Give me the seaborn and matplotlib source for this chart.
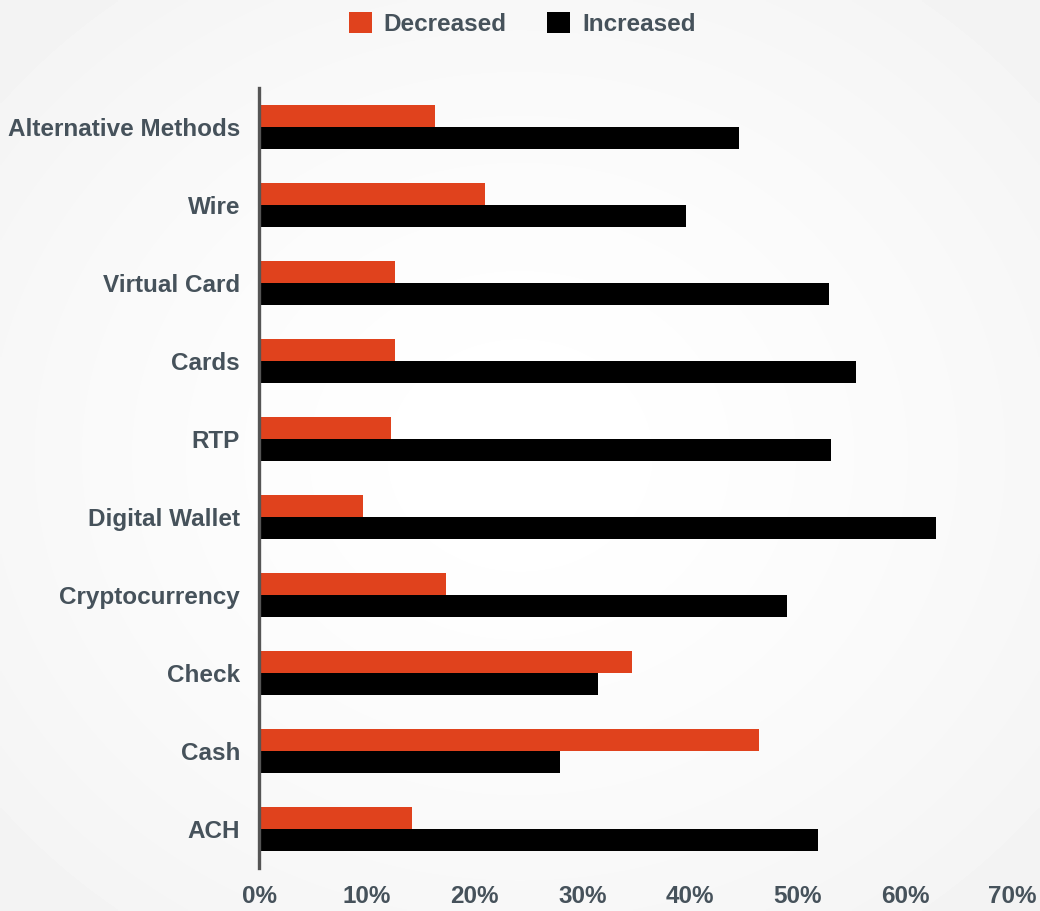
import numpy as np
import pandas as pd
import matplotlib
matplotlib.use("Agg")
import matplotlib.pyplot as plt
from matplotlib.patches import Patch
import seaborn as sns

# Share of respondents reporting a change in use of each payment method (%)
methods = ["Alternative Methods", "Wire", "Virtual Card", "Cards", "RTP",
           "Digital Wallet", "Cryptocurrency", "Check", "Cash", "ACH"]
decreased = [16.3, 21.0, 12.6, 12.6, 12.2, 9.6, 17.3, 34.6, 46.4, 14.2]
increased = [44.6, 39.6, 52.9, 55.4, 53.1, 62.9, 49.0, 31.5, 27.9, 51.9]
series = ["Decreased", "Increased"]
x_ticks = [0, 10, 20, 30, 40, 50, 60, 70]

RED = "#e0421d"
BLACK = "#000000"
TEXT = "#46525b"
FONT_SIZE = 17.5

df = pd.DataFrame({
    "method": methods * 2,
    "change": [series[0]] * len(methods) + [series[1]] * len(methods),
    "pct": decreased + increased,
})

sns.set_theme(style="white")
plt.rcParams["font.family"] = ["Liberation Sans", "DejaVu Sans"]

fig = plt.figure(figsize=(10.4, 9.11), dpi=100)

# soft radial background: white in the middle, light grey toward the edges
bg = fig.add_axes([0, 0, 1, 1], zorder=-10)
yy, xx = np.mgrid[-1:1:300j, -1:1:340j]
r = np.sqrt(xx ** 2 + yy ** 2)
shade = 1.0 - 0.05 * np.clip(r / 1.4, 0, 1) ** 1.5
bg.imshow(shade, cmap="gray", vmin=0, vmax=1, aspect="auto",
          extent=[0, 1, 0, 1], interpolation="bilinear")
bg.axis("off")

ax = fig.add_axes([0.2495, 0.0472, 0.7242, 0.8562])
ax.set_facecolor("none")
sns.barplot(data=df, y="method", x="pct", hue="change", order=methods,
            hue_order=series, palette=[RED, BLACK], width=0.555,
            orient="h", ax=ax, legend=False, saturation=1, linewidth=0)

ax.set_xlim(0, 70)
ax.set_ylim(len(methods) - 0.5, -0.5)
ax.set_xticks(x_ticks)
ax.set_xticklabels([f"{t}%" for t in x_ticks])
ax.set_xlabel("")
ax.set_ylabel("")
ax.tick_params(axis="both", length=0, labelsize=FONT_SIZE, labelcolor=TEXT)
ax.tick_params(axis="x", pad=12)
ax.tick_params(axis="y", pad=14)
for lab in ax.get_xticklabels() + ax.get_yticklabels():
    lab.set_fontweight("bold")

for side in ["top", "right", "bottom"]:
    ax.spines[side].set_visible(False)
ax.spines["left"].set_color("#555555")
ax.spines["left"].set_linewidth(2.4)
ax.grid(False)

handles = [Patch(facecolor=RED, edgecolor="none"),
           Patch(facecolor=BLACK, edgecolor="none")]
leg = fig.legend(handles, series, loc="center", bbox_to_anchor=(0.502, 0.974),
                 ncol=2, frameon=False, handlelength=0.95, handleheight=0.95,
                 handletextpad=0.5, columnspacing=1.65,
                 prop={"size": FONT_SIZE, "weight": "bold"})
for t in leg.get_texts():
    t.set_color(TEXT)

fig.savefig("out.png", dpi=100)
